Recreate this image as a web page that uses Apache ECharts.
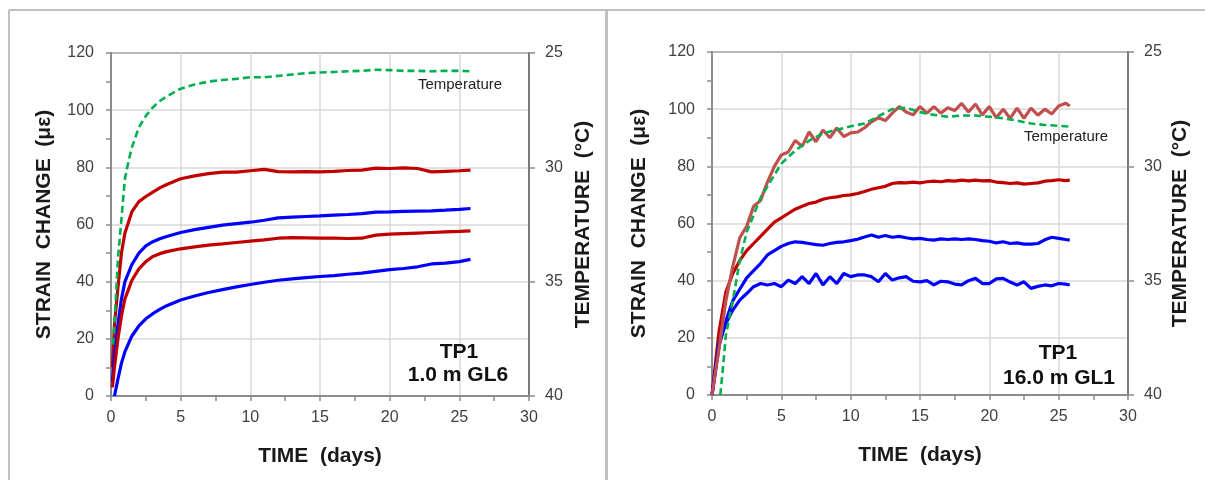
<!DOCTYPE html>
<html>
<head>
<meta charset="utf-8">
<script src="https://cdn.jsdelivr.net/npm/echarts@6/dist/echarts.min.js"></script>
<style>
html,body{margin:0;padding:0;background:#fff;}
#chart{width:1205px;height:480px;}
</style>
</head>
<body>
<div id="chart"></div>
<script>
// ---------- Tick labels ----------
const timeTicks = [0, 5, 10, 15, 20, 25, 30];
const strainTicks = [0, 20, 40, 60, 80, 100, 120];
const tempTicks = [25, 30, 35, 40];

// ---------- Left panel: TP1 1.0 m GL6 ----------
const gl6Time = [0.1, 0.25, 0.5, 0.75, 1, 1.5, 2, 2.5, 3, 3.5, 4, 5, 6, 7, 8, 9, 10, 11, 12, 13, 14, 15, 16, 17, 18, 19, 20, 21, 22, 23, 24, 25, 25.8];
const gl6RedUpper = [10, 25, 38, 50, 57, 64.5, 68, 69.8, 71.3, 72.8, 74, 76, 77, 77.8, 78.3, 78.3, 78.8, 79.3, 78.5, 78.4, 78.5, 78.4, 78.6, 78.9, 79, 79.7, 79.6, 79.8, 79.6, 78.4, 78.6, 78.8, 79];
const gl6BlueUpper = [5, 14, 25, 34, 40, 46, 50, 52.5, 54, 55, 55.8, 57.2, 58.2, 59, 59.8, 60.3, 60.8, 61.5, 62.3, 62.6, 62.8, 63, 63.3, 63.5, 63.8, 64.3, 64.4, 64.6, 64.7, 64.8, 65, 65.3, 65.6];
const gl6RedLower = [3, 10, 20, 28, 34, 40.5, 44.5, 47, 48.8, 49.8, 50.5, 51.5, 52.2, 52.8, 53.2, 53.7, 54.2, 54.6, 55.2, 55.4, 55.3, 55.2, 55.2, 55.1, 55.2, 56.3, 56.6, 56.8, 57, 57.2, 57.4, 57.6, 57.8];
const gl6BlueLower = [null, 0, 6, 11.5, 15.5, 21, 24.5, 27, 28.8, 30.3, 31.6, 33.6, 35, 36.2, 37.2, 38.2, 39, 39.8, 40.5, 41, 41.4, 41.8, 42.1, 42.6, 43, 43.6, 44.2, 44.6, 45.2, 46.2, 46.5, 47, 47.8];
const gl6TempTime = [0.15, 0.3, 0.5, 0.75, 1, 1.25, 1.5, 2, 2.5, 3, 3.5, 4, 5, 6, 7, 8, 9, 10, 11, 12, 13, 14, 15, 16, 17, 18, 19, 20, 21, 22, 23, 24, 25, 25.8];
const gl6Temp = [37.75, 36.25, 34.0, 32.25, 30.5, 29.75, 29.13, 28.25, 27.75, 27.38, 27.1, 26.9, 26.56, 26.38, 26.25, 26.18, 26.13, 26.06, 26.06, 26.0, 25.94, 25.88, 25.85, 25.83, 25.8, 25.78, 25.73, 25.75, 25.78, 25.78, 25.8, 25.78, 25.78, 25.8];

// ---------- Right panel: TP1 16.0 m GL1 ----------
const gl1Time = [0, 0.5, 1, 1.5, 2, 2.5, 3, 3.5, 4, 4.5, 5, 5.5, 6, 6.5, 7, 7.5, 8, 8.5, 9, 9.5, 10, 10.5, 11, 11.5, 12, 12.5, 13, 13.5, 14, 14.5, 15, 15.5, 16, 16.5, 17, 17.5, 18, 18.5, 19, 19.5, 20, 20.5, 21, 21.5, 22, 22.5, 23, 23.5, 24, 24.5, 25, 25.5, 25.8];
const gl1PaleRed = [0, 16, 33, 45, 55, 59, 66, 68, 74.5, 80, 84, 85, 89, 87, 92, 88.6, 92.7, 90, 93.4, 90.4, 91.7, 92, 93.5, 95.6, 97, 96, 98.6, 100.9, 99, 98, 100.9, 98.6, 100.9, 98.6, 100.5, 99.5, 102, 99, 101.8, 98, 100.9, 97, 100, 96.8, 100.4, 96.8, 100.4, 97.9, 100, 98.3, 101.1, 102.1, 101.1];
const gl1DarkRed = [0, 22, 36, 42.5, 47, 50.5, 53, 55.5, 58, 60.5, 62, 63.5, 65, 66, 67, 67.5, 68.5, 69, 69.3, 69.8, 70, 70.5, 71.2, 72, 72.5, 73, 74, 74.3, 74.2, 74.5, 74.2, 74.6, 74.8, 74.6, 75, 74.8, 75.2, 74.9, 75.2, 74.9, 75, 74.5, 74.3, 74, 74.2, 73.8, 74, 74.2, 74.8, 75, 75.3, 75, 75.2];
const gl1BlueUpper = [0, 17, 26, 33, 37, 41, 43.5, 46, 49, 50.5, 52, 53, 53.6, 53.4, 53, 52.6, 52.4, 53, 53.4, 53.6, 54, 54.5, 55.3, 56, 55.2, 55.8, 55.2, 55.5, 55, 54.6, 54.8, 54.4, 54.2, 54.6, 54.4, 54.6, 54.4, 54.6, 54.4, 54, 53.8, 53.2, 53.6, 53, 53.2, 52.8, 52.8, 53, 54.3, 55.2, 54.8, 54.4, 54.2];
const gl1BlueLower = [0, 18, 25, 29.7, 33.2, 35.5, 37.9, 39, 38.5, 39, 37.9, 40.2, 39, 41.4, 39, 42.5, 38.5, 41.4, 39, 42.5, 41.4, 42, 42, 41.4, 39.6, 42.5, 40.2, 41, 41.4, 39.8, 39.6, 40, 38.5, 39.8, 39.6, 38.8, 38.5, 40, 40.8, 39, 39, 40.6, 40.8, 39.5, 38.5, 39.6, 37.3, 38, 38.5, 38.2, 39, 38.8, 38.5];
const gl1TempTime = [0.6, 0.8, 1, 1.5, 2, 2.5, 3, 3.5, 4, 5, 6, 7, 8, 9, 10, 11, 12, 13, 14, 15, 16, 17, 18, 19, 20, 21, 22, 23, 24, 25, 25.8];
const gl1Temp = [40, 38.75, 37.38, 35.88, 34.13, 32.88, 32.13, 31.38, 30.88, 29.88, 29.31, 28.88, 28.56, 28.4, 28.25, 28.13, 27.81, 27.5, 27.44, 27.63, 27.75, 27.83, 27.78, 27.78, 27.83, 27.9, 28.0, 28.13, 28.19, 28.23, 28.26];

// ---------- Texts ----------
const xTitle = 'TIME  (days)';
const yTitle = 'STRAIN  CHANGE  (\u03bc\u03b5)';
const y2Title = 'TEMPERATURE  (\u00b0C)';
const tempLabel = 'Temperature';
const panelLabels = [['TP1', '1.0 m GL6'], ['TP1', '16.0 m GL1']];

const zip = (xs, ys) => xs.map((x, i) => [x, ys[i]]);

const FONT = 'Liberation Sans, Arial, sans-serif';
const C_DARKRED = '#c00000';
const C_PALERED = '#c0504d';
const C_BLUE = '#0000ff';
const C_GREEN = '#00b050';

const grids = [
  { left: 111, top: 53, width: 418, height: 343 },
  { left: 712, top: 52, width: 416, height: 343 }
];

const titleStyle = { fontFamily: FONT, fontWeight: 'bold', fontSize: 21, color: '#1a1a1a' };
const tickStyle = { fontFamily: FONT, fontSize: 16, color: '#404040' };

function xAxis(gi) {
  return {
    type: 'value', gridIndex: gi, min: timeTicks[0], max: timeTicks[timeTicks.length - 1], interval: 5,
    name: xTitle, nameLocation: 'middle', nameGap: 50,
    nameTextStyle: titleStyle,
    axisLine: { show: true, onZero: false, lineStyle: { color: '#8c8c8c', width: 2 } },
    axisTick: { show: true, length: 5, lineStyle: { color: '#8c8c8c', width: 1.5 } },
    minorTick: { show: true, splitNumber: 2, length: 5, lineStyle: { color: '#8c8c8c', width: 1.5 } },
    axisLabel: Object.assign({ margin: 14 }, tickStyle),
    splitLine: { show: true, lineStyle: { color: '#d9d9d9', width: 1.5 } }
  };
}
function yAxisL(gi, gap) {
  return {
    type: 'value', gridIndex: gi, position: 'left', min: strainTicks[0], max: strainTicks[strainTicks.length - 1], interval: 20,
    name: yTitle, nameLocation: 'middle', nameGap: gap, nameRotate: 90,
    nameTextStyle: titleStyle,
    axisLine: { show: true, onZero: false, lineStyle: { color: '#8c8c8c', width: 2 } },
    axisTick: { show: true, length: 5, lineStyle: { color: '#8c8c8c', width: 1.5 } },
    minorTick: { show: true, splitNumber: 2, length: 5, lineStyle: { color: '#8c8c8c', width: 1.5 } },
    axisLabel: Object.assign({ margin: 17 }, tickStyle),
    splitLine: { show: true, lineStyle: { color: '#d9d9d9', width: 1.5 } }
  };
}
function yAxisR(gi, gap) {
  return {
    type: 'value', gridIndex: gi, position: 'right', inverse: true,
    min: tempTicks[0], max: tempTicks[tempTicks.length - 1], interval: 5,
    name: y2Title, nameLocation: 'middle', nameGap: gap, nameRotate: 90,
    nameTextStyle: titleStyle,
    axisLine: { show: true, onZero: false, lineStyle: { color: '#7a7a7a', width: 2 } },
    axisTick: { show: true, length: 6, lineStyle: { color: '#8c8c8c', width: 1.5 } },
    axisLabel: Object.assign({ margin: 16 }, tickStyle),
    splitLine: { show: false }
  };
}
function strainSeries(gi, xs, ys, color) {
  return {
    type: 'line', xAxisIndex: gi, yAxisIndex: gi * 2, data: zip(xs, ys),
    showSymbol: false, symbol: 'none', smooth: false, connectNulls: false,
    lineStyle: { color: color, width: 3.2 }, z: 3
  };
}
function tempSeries(gi, xs, ys) {
  return {
    type: 'line', xAxisIndex: gi, yAxisIndex: gi * 2 + 1, data: zip(xs, ys),
    showSymbol: false, symbol: 'none',
    lineStyle: { color: C_GREEN, width: 2.6, type: [7, 4] }, z: 4
  };
}

function label(x, y, text, size, bold) {
  return {
    type: 'text', x: x, y: y, z: 100,
    style: { text: text, x: 0, y: 0, align: 'center', verticalAlign: 'middle',
      font: (bold ? 'bold ' : '') + size + 'px ' + FONT, fill: bold ? '#111' : '#222' }
  };
}

const option = {
  animation: false,
  backgroundColor: '#ffffff',
  grid: grids.map(g => Object.assign({ show: true, borderColor: '#595959', borderWidth: 2, backgroundColor: 'transparent' }, g)),
  xAxis: [xAxis(0), xAxis(1)],
  yAxis: [yAxisL(0, 56), yAxisR(0, 44), yAxisL(1, 62), yAxisR(1, 42)],
  series: [
    strainSeries(0, gl6Time, gl6RedUpper, C_DARKRED),
    strainSeries(0, gl6Time, gl6BlueUpper, C_BLUE),
    strainSeries(0, gl6Time, gl6RedLower, C_DARKRED),
    strainSeries(0, gl6Time, gl6BlueLower, C_BLUE),
    tempSeries(0, gl6TempTime, gl6Temp),
    strainSeries(1, gl1Time, gl1DarkRed, C_DARKRED),
    strainSeries(1, gl1Time, gl1BlueUpper, C_BLUE),
    strainSeries(1, gl1Time, gl1BlueLower, C_BLUE),
    tempSeries(1, gl1TempTime, gl1Temp),
    strainSeries(1, gl1Time, gl1PaleRed, C_PALERED)
  ],
  graphic: [
    { type: 'line', shape: { x1: 9, y1: 10, x2: 1205, y2: 10 }, style: { stroke: '#bfbfbf', lineWidth: 2 } },
    { type: 'line', shape: { x1: 9, y1: 10, x2: 9, y2: 480 }, style: { stroke: '#bfbfbf', lineWidth: 2 } },
    { type: 'line', shape: { x1: 606.5, y1: 10, x2: 606.5, y2: 480 }, style: { stroke: '#bfbfbf', lineWidth: 3 } },
    label(460, 85, tempLabel, 15, false),
    label(1066, 137, tempLabel, 15, false),
    label(459, 352, panelLabels[0][0], 21, true),
    label(458, 375, panelLabels[0][1], 21, true),
    label(1058, 353, panelLabels[1][0], 21, true),
    label(1059, 378, panelLabels[1][1], 21, true)
  ]
};

const chart = echarts.init(document.getElementById('chart'), null, { renderer: 'canvas' });
chart.setOption(option);
</script>
</body>
</html>
